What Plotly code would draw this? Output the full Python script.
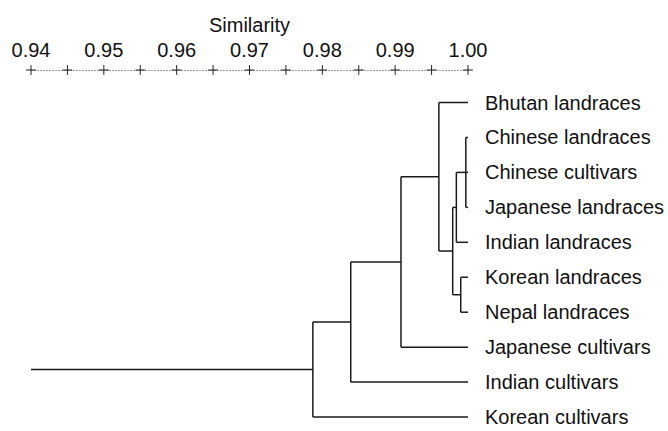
import plotly.graph_objects as go

# Leaf labels (top to bottom)
leaves = ["Bhutan landraces", "Chinese landraces", "Chinese cultivars",
          "Japanese landraces", "Indian landraces", "Korean landraces",
          "Nepal landraces", "Japanese cultivars", "Indian cultivars",
          "Korean cultivars"]

# Merge steps: children (leaf indices 0-9, clusters 10+) and similarity level
merge_children = [[1, 2, 3], [5, 6], [10, 4], [12, 11], [0, 13], [14, 7], [15, 8], [16, 9]]
merge_similarity = [0.9997, 0.9990, 0.9984, 0.9979, 0.9960, 0.9908, 0.9839, 0.9787]

axis_min = 0.94
axis_max = 1.00
major_ticks = [0.94, 0.95, 0.96, 0.97, 0.98, 0.99, 1.00]
major_labels = ["0.94", "0.95", "0.96", "0.97", "0.98", "0.99", "1.00"]
minor_ticks = [0.940, 0.945, 0.950, 0.955, 0.960, 0.965, 0.970, 0.975,
               0.980, 0.985, 0.990, 0.995, 1.000]

# Positions of nodes
pos_x = {i: axis_max for i in range(len(leaves))}
pos_y = {i: float(i) for i in range(len(leaves))}
xs, ys = [], []
for k, (children, sim) in enumerate(zip(merge_children, merge_similarity)):
    nid = len(leaves) + k
    cy = [pos_y[c] for c in children]
    pos_x[nid] = sim
    pos_y[nid] = sum(cy) / len(cy)
    xs += [sim, sim, None]
    ys += [min(cy), max(cy), None]
    for c in children:
        xs += [sim, pos_x[c], None]
        ys += [pos_y[c], pos_y[c], None]
root = len(leaves) + len(merge_children) - 1
xs += [axis_min, pos_x[root], None]
ys += [pos_y[root], pos_y[root], None]

AXIS_Y = -0.93
FONT = "Liberation Sans, Arial, Helvetica, sans-serif"

fig = go.Figure()
fig.add_trace(go.Scatter(x=xs, y=ys, mode="lines",
                         line=dict(color="#1a1a1a", width=1.5),
                         hoverinfo="skip", showlegend=False))
# dashed scale line
fig.add_trace(go.Scatter(x=[axis_min, axis_max], y=[AXIS_Y, AXIS_Y], mode="lines",
                         line=dict(color="#333333", width=1, dash="2px,1px"),
                         hoverinfo="skip", showlegend=False))
# plus marks
fig.add_trace(go.Scatter(x=minor_ticks, y=[AXIS_Y] * len(minor_ticks), mode="markers",
                         marker=dict(symbol="cross-thin", size=7,
                                     line=dict(color="#222222", width=1)),
                         hoverinfo="skip", showlegend=False, cliponaxis=False))

fig.update_layout(
    width=668, height=431,
    margin=dict(l=31, r=200, t=70, b=8),
    paper_bgcolor="white", plot_bgcolor="white",
    font=dict(family=FONT, size=20, color="#111111"),
    xaxis=dict(side="top", range=[axis_min, axis_max], tickvals=major_ticks,
               ticktext=major_labels, ticks="", showgrid=False, zeroline=False,
               showline=False, ticklabelstandoff=8, ticklabeloverflow="allow",
               title=dict(text="Similarity", standoff=1, font=dict(size=20))),
    yaxis=dict(side="right", range=[9.17, AXIS_Y], tickvals=list(range(len(leaves))),
               ticktext=leaves, ticks="", showgrid=False, zeroline=False,
               showline=False, ticklabelstandoff=16, automargin=False,
               ticklabeloverflow="allow"),
)

fig.write_html("out.html", config={"displayModeBar": False},
               post_script="document.body.style.margin='0';document.body.style.overflow='hidden';")
